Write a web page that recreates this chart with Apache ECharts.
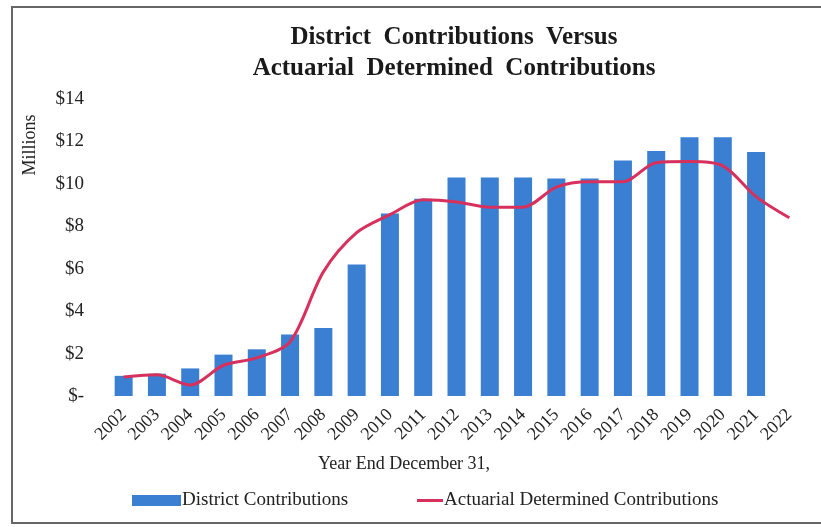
<!DOCTYPE html>
<html>
<head>
<meta charset="utf-8">
<script src="https://cdn.jsdelivr.net/npm/echarts@6/dist/echarts.min.js"></script>
<style>
  html, body { margin: 0; padding: 0; background: #fff; }
  #chart { width: 821px; height: 527px; }
</style>
</head>
<body>
<div id="chart"></div>
<script>
// Fiscal years (year end December 31)
const years = ['2002','2003','2004','2005','2006','2007','2008','2009','2010','2011','2012',
               '2013','2014','2015','2016','2017','2018','2019','2020','2021','2022'];
// District contributions, $ millions (no figure yet for 2022)
const districtContributions = [0.95, 1.05, 1.3, 1.95, 2.2, 2.9, 3.2, 6.2, 8.6, 9.3, 10.3,
                               10.3, 10.3, 10.25, 10.25, 11.1, 11.55, 12.2, 12.2, 11.5, null];
// Actuarially determined contributions, $ millions
const actuarialContributions = [0.9, 1.0, 0.52, 1.45, 1.8, 2.55, 5.85, 7.7, 8.55, 9.25, 9.15,
                                8.9, 8.9, 9.85, 10.1, 10.1, 11.0, 11.05, 10.85, 9.4, 8.4];
// Value axis ticks
const yTicks = [0, 2, 4, 6, 8, 10, 12, 14];

const serif = '"Liberation Serif", "DejaVu Serif", serif';
const chart = echarts.init(document.getElementById('chart'), null, { renderer: 'canvas' });

chart.setOption({
  backgroundColor: '#ffffff',
  animation: false,
  title: {
    text: 'District  Contributions  Versus\nActuarial  Determined  Contributions',
    left: 449,
    textAlign: 'center',
    top: 17,
    textStyle: {
      fontFamily: serif,
      fontWeight: 'bold',
      fontSize: 25,
      lineHeight: 31,
      color: '#1a1a1a'
    }
  },
  grid: { left: 107, right: 15, top: 99, bottom: 131, containLabel: false },
  legend: [
    {
      data: [{ name: 'District Contributions', icon: 'rect' }],
      left: 127,
      top: 486,
      itemWidth: 49,
      itemHeight: 11,
      itemGap: 0,
      textStyle: { fontFamily: serif, fontSize: 19, color: '#222', padding: [0, 0, 0, -4] }
    },
    {
      data: [{ name: 'Actuarial Determined Contributions', icon: 'rect' }],
      left: 412,
      top: 486,
      itemWidth: 26,
      itemHeight: 3,
      itemGap: 0,
      textStyle: { fontFamily: serif, fontSize: 19, color: '#222', padding: [0, 0, 0, -4] }
    }
  ],
  xAxis: {
    type: 'category',
    data: years,
    axisLine: { show: false },
    axisTick: { show: false },
    axisLabel: {
      interval: 0,
      rotate: 45,
      margin: 16,
      fontFamily: serif,
      fontSize: 18,
      color: '#222'
    }
  },
  yAxis: {
    type: 'value',
    min: 0,
    max: 14,
    interval: 2,
    axisLine: { show: false },
    axisTick: { show: false },
    splitLine: { show: false },
    axisLabel: {
      margin: 23,
      fontFamily: serif,
      fontSize: 19,
      color: '#222',
      formatter: v => (yTicks.indexOf(v) >= 0 ? (v === 0 ? '$-' : '$' + v) : '')
    }
  },
  series: [
    {
      name: 'District Contributions',
      type: 'bar',
      data: districtContributions,
      barWidth: 18,
      itemStyle: { color: '#3a7fd2' }
    },
    {
      name: 'Actuarial Determined Contributions',
      type: 'line',
      data: actuarialContributions,
      smooth: 0.3,
      symbol: 'none',
      lineStyle: { color: '#d8305c', width: 3 },
      itemStyle: { color: '#d8305c' }
    }
  ],
  graphic: [
    {
      type: 'text',
      x: 30,
      y: 145,
      rotation: Math.PI / 2,
      style: {
        text: 'Millions',
        font: '18px ' + serif,
        fill: '#222',
        align: 'center',
        verticalAlign: 'middle'
      }
    },
    {
      type: 'text',
      left: 318,
      top: 455,
      style: { text: 'Year End December 31,', font: '18px ' + serif, fill: '#222' }
    },
    {
      type: 'polyline',
      shape: { points: [[821, 7], [12, 7], [12, 523], [821, 523]] },
      style: { stroke: '#666', lineWidth: 2, fill: null },
      silent: true
    }
  ]
});
</script>
</body>
</html>
